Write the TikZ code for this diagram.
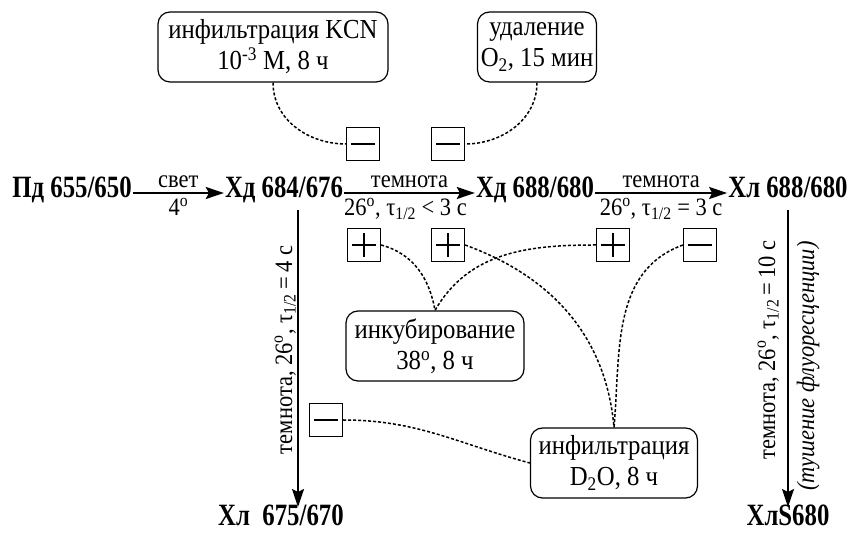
\documentclass[tikz,border=0pt]{standalone}
\usepackage{fontspec}
\setmainfont{Liberation Serif}[FakeStretch=0.9]
\newfontfamily\stfont{Liberation Serif}[FakeStretch=0.8]
\usetikzlibrary{arrows.meta,calc}
\begin{document}
\begin{tikzpicture}[
 st/.style={font=\stfont\fontsize{31}{33}\selectfont\bfseries, inner sep=1pt, anchor=base},
 lbl/.style={font=\fontsize{25}{27}\selectfont, inner sep=4pt},
 rlbl/.style={font=\fontsize{25}{27}\selectfont, inner sep=0pt, rotate=90, anchor=base},
 bx/.style={draw, line width=1.2pt, rounded corners=12pt, align=center, font=\fontsize{27.5}{31}\selectfont, inner sep=3pt, minimum height=70pt},
 sgnbox/.style={draw, line width=1.2pt, minimum size=33pt, inner sep=0pt},
 mns/.style={sgnbox, path picture={\draw[line width=1.6pt] ($(path picture bounding box.center)+(-12pt,0)$) -- ($(path picture bounding box.center)+(12pt,0)$);}},
 pls/.style={sgnbox, path picture={\draw[line width=1.6pt] ($(path picture bounding box.center)+(-12pt,0)$) -- ($(path picture bounding box.center)+(12pt,0)$) ($(path picture bounding box.center)+(0,-12pt)$) -- ($(path picture bounding box.center)+(0,12pt)$);}},
 arr/.style={line width=2pt, -{Stealth[length=18pt,width=12pt,inset=3pt]}},
 dsh/.style={line width=1.5pt, dash pattern=on 3pt off 2pt},
 x=1pt, y=1pt
]
\useasboundingbox (0,0) rectangle (850,532);

% main states
\node[st] (pd) at (72,334) {Пд 655/650};
\node[st] (xd1) at (284,334) {Хд 684/676};
\node[st] (xd2) at (535,334) {Хд 688/680};
\node[st] (xl1) at (788,334) {Хл 688/680};
\node[st] (xl2) at (281,7) {Хл\ \ 675/670};
\node[st] (xls) at (788,7) {ХлS680};

% horizontal arrows
\draw[arr] ([yshift=5pt]pd.base east) -- ([yshift=5pt]xd1.base west)
  node[lbl, midway, above] {свет}
  node[lbl, midway, below] {4\textsuperscript{o}};
\draw[arr] ([yshift=5pt]xd1.base east) -- ([yshift=5pt]xd2.base west)
  node[lbl, midway, above] {темнота}
  node[lbl, midway, below, xshift=-4pt] {26\textsuperscript{o}, τ\textsubscript{1/2} < 3 с};
\draw[arr] ([yshift=5pt]xd2.base east) -- ([yshift=5pt]xl1.base west)
  node[lbl, midway, above] {темнота}
  node[lbl, midway, below] {26\textsuperscript{o}, τ\textsubscript{1/2} = 3 с};

% vertical arrows
\draw[arr] ([xshift=14pt,yshift=-12pt]xd1.base) -- ([xshift=17pt,yshift=18pt]xl2.base);
\draw[arr] ([yshift=-12pt]xl1.base) -- ([yshift=18pt]xls.base);
\node[rlbl] (l1) at (292,182) {темнота, 26\textsuperscript{o}, τ\textsubscript{1/2}\,=\,4 с};
\node[rlbl] (l2) at (775,182) {темнота, 26\textsuperscript{o}, τ\textsubscript{1/2}\,=\,10 с};
\node[rlbl, font=\fontsize{25}{27}\selectfont\itshape] (l3) at (814,166) {(тушение флуоресценции)};

% condition boxes
\node[bx, minimum width=230pt] (kcn) at (273,485) {инфильтрация KCN\\10\textsuperscript{-3} М, 8 ч};
\node[bx, minimum width=119pt] (o2) at (537,485) {удаление\\O\textsubscript{2}, 15 мин};
\node[bx, minimum width=178pt] (inc) at (435,186) {инкубирование\\38\textsuperscript{o}, 8 ч};
\node[bx, minimum width=167pt] (d2o) at (614,69) {инфильтрация\\D\textsubscript{2}O, 8 ч};

% sign boxes
\node[mns] (m1) at (363,388) {};
\node[mns] (m2) at (448,388) {};
\node[pls] (p1) at (364,287) {};
\node[pls] (p2) at (448,287) {};
\node[pls] (p3) at (613,287) {};
\node[mns] (m3) at (700,287) {};
\node[mns] (m4) at (326,112) {};

% dashed links
\draw[dsh] (kcn.south) to[out=-90,in=180] (m1.west);
\draw[dsh] (o2.south) to[out=-90,in=0] (m2.east);
\draw[dsh] (p1.east) to[out=-15,in=100] (inc.north);
\draw[dsh] (p3.west) to[out=180,in=60] (inc.north);
\draw[dsh] (p2.east) to[out=-20,in=95] (d2o.north);
\draw[dsh] (m3.west) to[out=200,in=85] (d2o.north);
\draw[dsh] (m4.east) to[out=0,in=165] (d2o.west);
\end{tikzpicture}
\end{document}
